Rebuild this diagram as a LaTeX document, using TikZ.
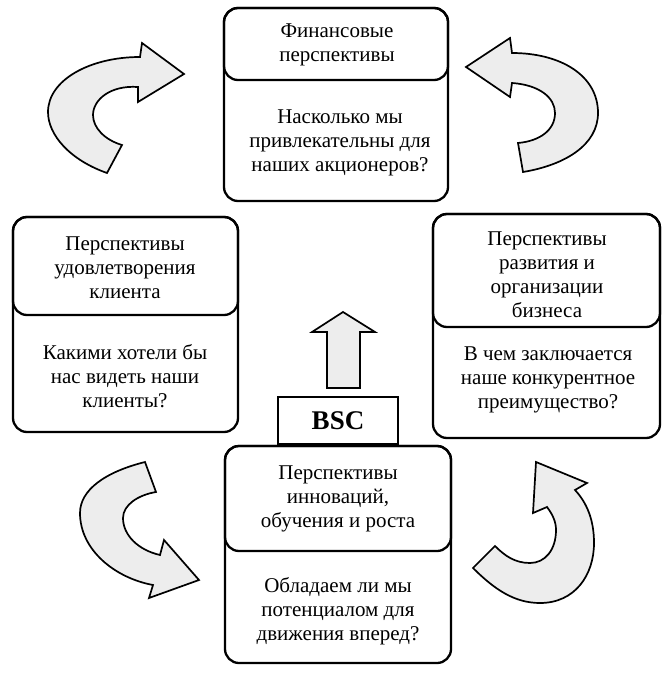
\documentclass[tikz,border=0pt]{standalone}
\usepackage{fontspec}
\setmainfont{Liberation Serif}
\usetikzlibrary{positioning}

\tikzset{
  box/.style={line width=2.3pt, rounded corners=14pt},
  txt/.style={align=center, font=\fontsize{21}{24}\selectfont, inner sep=0pt},
  turn/.style={line width=1.7pt, fill=black!7, line join=miter},
}

\begin{document}
\begin{tikzpicture}[x=1pt,y=-1pt]
\useasboundingbox (0,0) rectangle (669,676);

% financial
\draw[box] (224,8) rectangle (448,201);
\draw[box] (224,8) rectangle (448,80);
\node[txt] (fin) at (337,45) {Финансовые\\перспективы};
\node[txt] (finq) at (340,143) {Насколько мы\\привлекательны для\\наших акционеров?};

% client
\draw[box] (13,217) rectangle (238,432);
\draw[box] (13,217) rectangle (238,315);
\node[txt] (cli) at (125,268) {Перспективы\\удовлетворения\\клиента};
\node[txt] (cliq) at (125,376) {Какими хотели бы\\нас видеть наши\\клиенты?};

% business
\draw[box] (433,214) rectangle (660,438);
\draw[box] (433,214) rectangle (660,327);
\node[txt] (biz) at (547,275) {Перспективы\\развития и\\организации\\бизнеса};
\node[txt] (bizq) at (548,380) {В чем заключается\\наше конкурентное\\преимущество?};

% innovation
\draw[box] (225,446) rectangle (451,663);
\draw[box] (225,446) rectangle (451,551);
\node[txt] (inn) at (338,499) {Перспективы\\инноваций,\\обучения и роста};
\node[txt] (innq) at (338,611) {Обладаем ли мы\\потенциалом для\\движения вперед?};

\node[draw, line width=1.8pt, minimum width=120pt, minimum height=47pt, inner sep=0pt,
  font=\bfseries\fontsize{27}{27}\selectfont] (bsc) at (338,420.5) {BSC};
\draw[turn] (327,388) -- (327,332) -- (312,332) -- (343,312) -- (375,332)
  -- (360,332) -- (360,388) -- cycle;

% turning arrows
\draw[turn] (107,173) .. controls (70,160) and (48,135) .. (48,112)
  .. controls (48,80) and (90,57) .. (140,57) -- (142,43) -- (184,74)
  -- (138,102) -- (138,87) .. controls (110,85) and (93,100) .. (93,115)
  .. controls (93,128) and (105,140) .. (122,145) -- cycle;
\draw[turn] (523,172) .. controls (565,165) and (598,145) .. (598,113)
  .. controls (598,75) and (560,53) .. (512,53) -- (510,38) -- (466,67)
  -- (510,97) -- (512,83) .. controls (540,85) and (555,98) .. (555,113)
  .. controls (555,130) and (540,141) .. (518,143) -- cycle;
\draw[turn] (145,462) .. controls (105,472) and (80,490) .. (80,513)
  .. controls (80,550) and (115,578) .. (153,585) -- (149,598) -- (199,580)
  -- (164,540) -- (160,555) .. controls (138,550) and (123,535) .. (123,518)
  .. controls (123,505) and (138,495) .. (156,492) -- cycle;
\draw[turn] (473,568) .. controls (495,590) and (515,603) .. (540,603)
  .. controls (575,603) and (594,575) .. (594,543) .. controls (594,520) and (587,503) .. (575,490)
  -- (587,483) -- (536,462) -- (533,513) -- (547,507)
  .. controls (553,515) and (556,522) .. (556,530) .. controls (556,550) and (545,563) .. (530,563)
  .. controls (515,563) and (505,556) .. (495,546) -- cycle;
\end{tikzpicture}
\end{document}
